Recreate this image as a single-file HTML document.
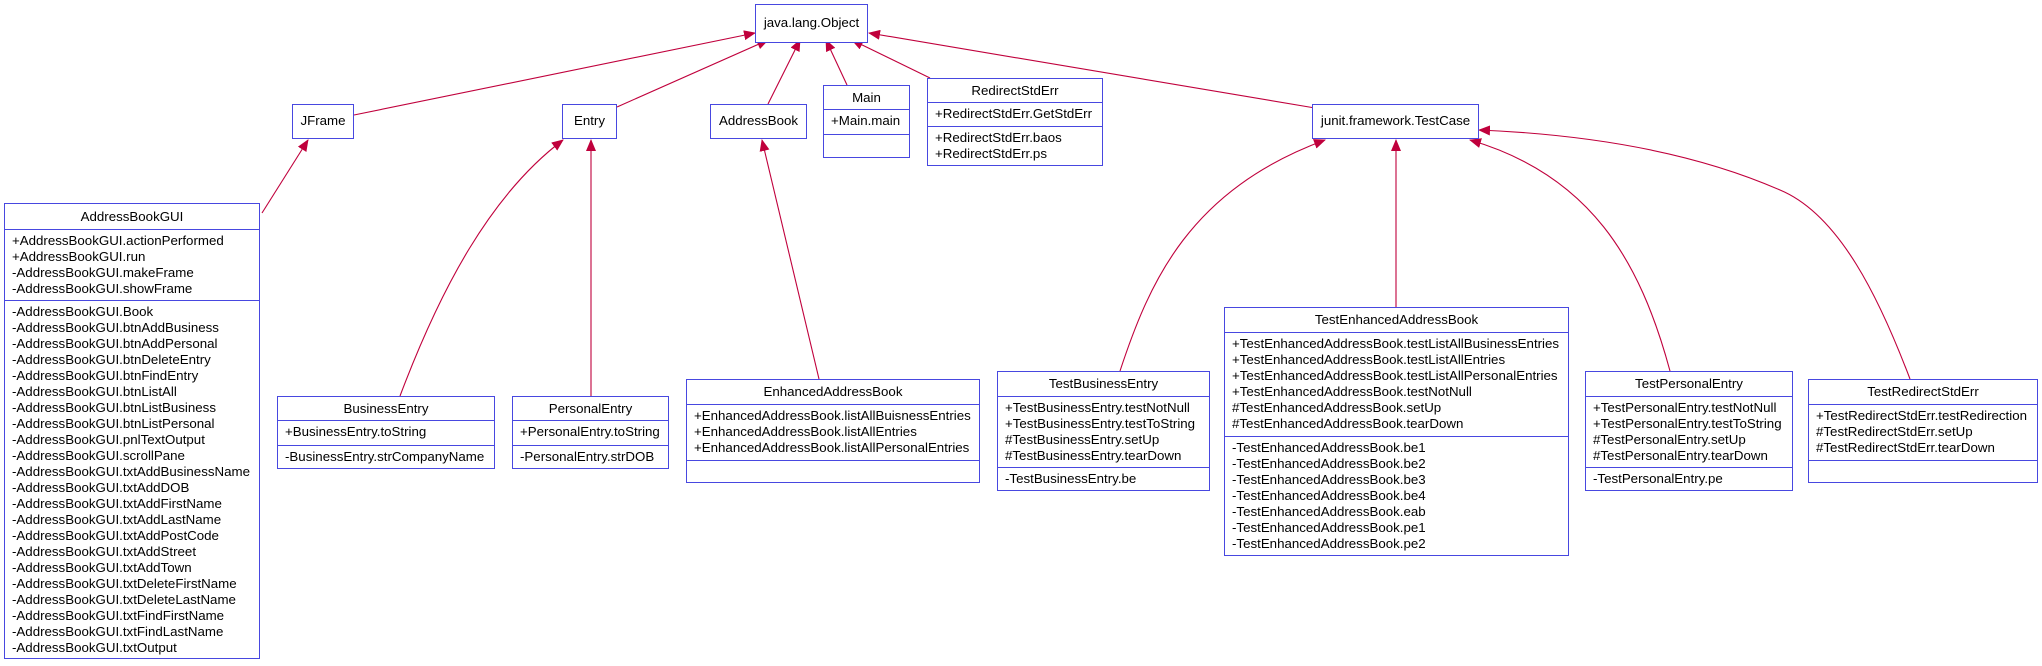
<!DOCTYPE html>
<html><head><meta charset="utf-8"><style>
body{margin:0;width:2042px;height:666px;background:#fff;position:relative;overflow:hidden;font-family:"Liberation Sans",sans-serif;font-size:13.3px;color:#000}
.b{position:absolute;border:1.3px solid #4848e0;box-sizing:border-box;background:#fff}
.s{box-sizing:border-box;border-top:1.3px solid #4848e0;padding:3px 0 0 7px;line-height:16px;white-space:nowrap}
.t{text-align:center;padding:0;display:flex;align-items:center;justify-content:center;border-top:none}
svg{position:absolute;left:0;top:0}
</style></head><body>
<svg width="2042" height="666">
<defs><marker id="a" markerWidth="12" markerHeight="10" refX="11" refY="5" orient="auto" markerUnits="userSpaceOnUse"><path d="M0,0 L12,5 L0,10 z" fill="#c0003c"/></marker></defs>
<g stroke="#c0003c" stroke-width="1.1" fill="none" marker-end="url(#a)">
<path d="M354,115 L755,33"/>
<path d="M617,107 L768,40"/>
<path d="M768,104 L800,40"/>
<path d="M847,85 L826,40"/>
<path d="M930,78 L852,40"/>
<path d="M1315,108 L869,33"/>
<path d="M262,213 L308,140"/>
<path d="M400,396 C440,290 490,195 563,140"/>
<path d="M591,396 L591,140"/>
<path d="M819,379 L762,140"/>
<path d="M1120,371 C1150,280 1190,190 1325,140"/>
<path d="M1396,307 L1396,140"/>
<path d="M1670,371 C1640,260 1590,175 1470,140"/>
<path d="M1910,379 C1880,300 1840,215 1780,190 C1700,155 1600,135 1479,130"/>
</g></svg>

<div class="b" style="left:755px;top:4px;width:113px;height:39px"><div class="s t" style="height:36px">java.lang.Object</div></div>
<div class="b" style="left:292px;top:104px;width:62px;height:35px"><div class="s t" style="height:32px">JFrame</div></div>
<div class="b" style="left:562px;top:104px;width:55px;height:35px"><div class="s t" style="height:32px">Entry</div></div>
<div class="b" style="left:710px;top:104px;width:97px;height:35px"><div class="s t" style="height:32px">AddressBook</div></div>
<div class="b" style="left:823px;top:85px;width:87px;height:73px"><div class="s t" style="height:23px">Main</div><div class="s" style="height:25px">+Main.main</div><div class="s" style="height:22px"></div></div>
<div class="b" style="left:927px;top:78px;width:176px;height:88px"><div class="s t" style="height:23px">RedirectStdErr</div><div class="s" style="height:24px">+RedirectStdErr.GetStdErr</div><div class="s" style="height:38px">+RedirectStdErr.baos<br>+RedirectStdErr.ps</div></div>
<div class="b" style="left:1312px;top:104px;width:167px;height:35px"><div class="s t" style="height:32px">junit.framework.TestCase</div></div>

<div class="b" style="left:4px;top:203px;width:256px;height:456px"><div class="s t" style="height:25px">AddressBookGUI</div><div class="s" style="height:71px">+AddressBookGUI.actionPerformed<br>+AddressBookGUI.run<br>-AddressBookGUI.makeFrame<br>-AddressBookGUI.showFrame</div><div class="s" style="height:357px">-AddressBookGUI.Book<br>-AddressBookGUI.btnAddBusiness<br>-AddressBookGUI.btnAddPersonal<br>-AddressBookGUI.btnDeleteEntry<br>-AddressBookGUI.btnFindEntry<br>-AddressBookGUI.btnListAll<br>-AddressBookGUI.btnListBusiness<br>-AddressBookGUI.btnListPersonal<br>-AddressBookGUI.pnlTextOutput<br>-AddressBookGUI.scrollPane<br>-AddressBookGUI.txtAddBusinessName<br>-AddressBookGUI.txtAddDOB<br>-AddressBookGUI.txtAddFirstName<br>-AddressBookGUI.txtAddLastName<br>-AddressBookGUI.txtAddPostCode<br>-AddressBookGUI.txtAddStreet<br>-AddressBookGUI.txtAddTown<br>-AddressBookGUI.txtDeleteFirstName<br>-AddressBookGUI.txtDeleteLastName<br>-AddressBookGUI.txtFindFirstName<br>-AddressBookGUI.txtFindLastName<br>-AddressBookGUI.txtOutput</div></div>

<div class="b" style="left:277px;top:396px;width:218px;height:73px"><div class="s t" style="height:23px">BusinessEntry</div><div class="s" style="height:25px">+BusinessEntry.toString</div><div class="s" style="height:22px">-BusinessEntry.strCompanyName</div></div>
<div class="b" style="left:512px;top:396px;width:157px;height:73px"><div class="s t" style="height:23px">PersonalEntry</div><div class="s" style="height:25px">+PersonalEntry.toString</div><div class="s" style="height:22px">-PersonalEntry.strDOB</div></div>
<div class="b" style="left:686px;top:379px;width:294px;height:104px"><div class="s t" style="height:24px">EnhancedAddressBook</div><div class="s" style="height:56px">+EnhancedAddressBook.listAllBuisnessEntries<br>+EnhancedAddressBook.listAllEntries<br>+EnhancedAddressBook.listAllPersonalEntries</div><div class="s" style="height:21px"></div></div>
<div class="b" style="left:997px;top:371px;width:213px;height:120px"><div class="s t" style="height:24px">TestBusinessEntry</div><div class="s" style="height:71px">+TestBusinessEntry.testNotNull<br>+TestBusinessEntry.testToString<br>#TestBusinessEntry.setUp<br>#TestBusinessEntry.tearDown</div><div class="s" style="height:22px">-TestBusinessEntry.be</div></div>
<div class="b" style="left:1224px;top:307px;width:345px;height:249px"><div class="s t" style="height:24px">TestEnhancedAddressBook</div><div class="s" style="height:104px">+TestEnhancedAddressBook.testListAllBusinessEntries<br>+TestEnhancedAddressBook.testListAllEntries<br>+TestEnhancedAddressBook.testListAllPersonalEntries<br>+TestEnhancedAddressBook.testNotNull<br>#TestEnhancedAddressBook.setUp<br>#TestEnhancedAddressBook.tearDown</div><div class="s" style="height:118px">-TestEnhancedAddressBook.be1<br>-TestEnhancedAddressBook.be2<br>-TestEnhancedAddressBook.be3<br>-TestEnhancedAddressBook.be4<br>-TestEnhancedAddressBook.eab<br>-TestEnhancedAddressBook.pe1<br>-TestEnhancedAddressBook.pe2</div></div>
<div class="b" style="left:1585px;top:371px;width:208px;height:120px"><div class="s t" style="height:24px">TestPersonalEntry</div><div class="s" style="height:71px">+TestPersonalEntry.testNotNull<br>+TestPersonalEntry.testToString<br>#TestPersonalEntry.setUp<br>#TestPersonalEntry.tearDown</div><div class="s" style="height:22px">-TestPersonalEntry.pe</div></div>
<div class="b" style="left:1808px;top:379px;width:230px;height:104px"><div class="s t" style="height:24px">TestRedirectStdErr</div><div class="s" style="height:56px">+TestRedirectStdErr.testRedirection<br>#TestRedirectStdErr.setUp<br>#TestRedirectStdErr.tearDown</div><div class="s" style="height:21px"></div></div>
</body></html>
